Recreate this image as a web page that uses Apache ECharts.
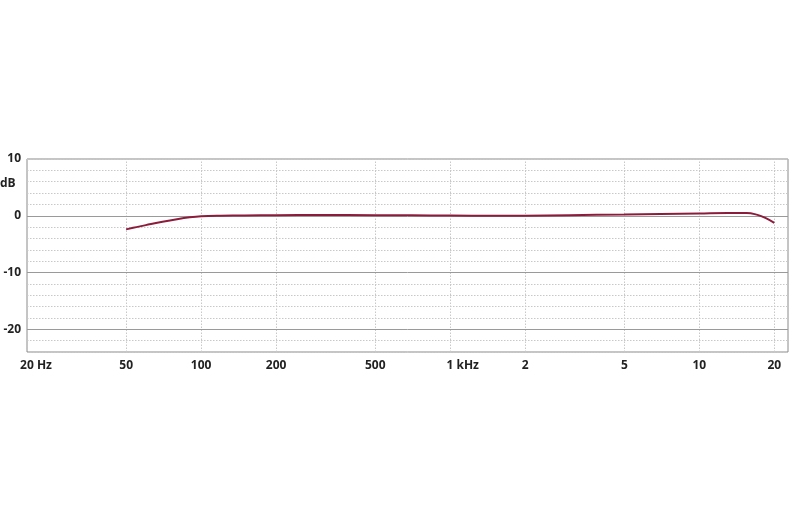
<!DOCTYPE html>
<html>
<head>
<meta charset="utf-8">
<script src="https://cdn.jsdelivr.net/npm/echarts@6/dist/echarts.min.js"></script>
<style>html,body{margin:0;padding:0;background:#fff}#c{width:800px;height:532px}</style>
</head>
<body>
<div id="c"></div>
<script>
var freqHz = [50, 55, 60, 70, 80, 90, 100, 120, 150, 200, 300, 500, 700, 1000, 1500, 2000, 3000, 5000, 7000, 10000, 13000, 15500, 17000, 18500, 20000];
var levelDb = [-2.4, -2.0, -1.65, -1.05, -0.6, -0.28, -0.1, 0.0, 0.05, 0.1, 0.12, 0.1, 0.08, 0.05, 0.0, 0.02, 0.1, 0.22, 0.32, 0.42, 0.5, 0.5, 0.2, -0.4, -1.25];
var tickFreqs = [20, 50, 100, 200, 500, 1000, 2000, 5000, 10000, 20000];
var tickLabels = ['20 Hz', '50', '100', '200', '500', '1 kHz', '2', '5', '10', '20'];
var majorDb = [0, -10, -20];
var yMin = -24, yMax = 10, yStep = 2;
var fMin = 20, fMax = 22700;

var lg = function (v) { return Math.log10(v); };
var lineData = freqHz.map(function (f, i) { return [lg(f), levelDb[i]]; });
var tickPos = tickFreqs.map(lg);

var chart = echarts.init(document.getElementById('c'));
var labelFont = { fontFamily: 'Open Sans', fontWeight: 'bold', fontSize: 12, color: '#222' };

chart.setOption({
  animation: false,
  grid: { left: 27, right: 12, top: 159, bottom: 180, show: true, borderColor: '#8a8a8a', borderWidth: 1, backgroundColor: '#fff' },
  xAxis: {
    type: 'value', min: lg(fMin), max: lg(fMax),
    axisLine: { show: false }, axisTick: { show: false }, splitLine: { show: false },
    axisLabel: Object.assign({
      customValues: tickPos, margin: 8,
      formatter: function (v) {
        var idx = -1;
        for (var i = 0; i < tickPos.length; i++) if (Math.abs(tickPos[i] - v) < 1e-6) idx = i;
        if (idx === 0) return '{first|' + tickLabels[0] + '}';
        if (idx === 5) return '{khz|' + tickLabels[5] + '}';
        return idx >= 0 ? tickLabels[idx] : '';
      },
      rich: {
        first: Object.assign({ padding: [0, 0, 0, 18] }, labelFont),
        khz: Object.assign({ padding: [0, 0, 0, 25] }, labelFont)
      },
      showMinLabel: true, showMaxLabel: true, hideOverlap: false
    }, labelFont)
  },
  yAxis: {
    type: 'value', min: yMin, max: yMax, interval: yStep,
    axisLine: { show: false }, axisTick: { show: false },
    splitLine: { show: true, lineStyle: { color: '#c8c8c8', type: [1.5, 1.5], width: 1 } },
    axisLabel: Object.assign({
      margin: 6,
      formatter: function (v) { return (v % 10 === 0) ? String(v) : ''; }
    }, labelFont)
  },
  graphic: [{
    type: 'text', left: 0, top: 178,
    style: { text: 'dB', font: 'bold 12px "Open Sans"', fill: '#222' }
  }],
  series: [
    {
      type: 'line', data: [], silent: true,
      markLine: {
        symbol: 'none', silent: true, label: { show: false },
        lineStyle: { color: '#c8c8c8', type: [1.5, 1.5], width: 1 },
        data: tickPos.slice(1).map(function (p) { return { xAxis: p }; })
      }
    },
    {
      type: 'line', data: [], silent: true,
      markLine: {
        symbol: 'none', silent: true, label: { show: false },
        lineStyle: { color: '#9a9a9a', type: 'solid', width: 1 },
        data: majorDb.map(function (d) { return { yAxis: d }; })
      }
    },
    {
      type: 'line', data: lineData, smooth: 0.4, showSymbol: false,
      lineStyle: { color: '#8c1c3c', width: 2 }, z: 5
    }
  ]
});
</script>
</body>
</html>
